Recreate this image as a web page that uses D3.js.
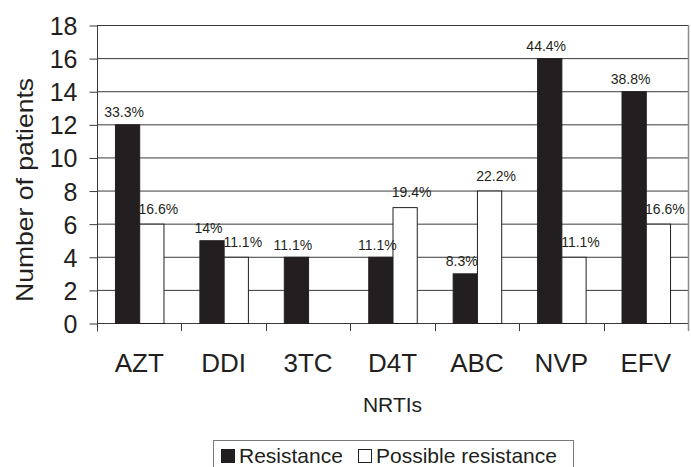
<!DOCTYPE html>
<html>
  <head>
    <script src="https://d3js.org/d3.v7.min.js"></script>
    <style>
      body { margin: 0; background: white; }
      text { font-family: "Liberation Sans", Arial, sans-serif; fill: #231f20; }
    </style>
  </head>
  <body>
    <script>
      const categories = ['AZT', 'DDI', '3TC', 'D4T', 'ABC', 'NVP', 'EFV'];
      const resistance = [12, 5, 4, 4, 3, 16, 14];
      const possible = [6, 4, 0, 7, 8, 4, 6];
      const resistanceLabels = ['33.3%', '14%', '11.1%', '11.1%', '8.3%', '44.4%', '38.8%'];
      const possibleLabels = ['16.6%', '11.1%', null, '19.4%', '22.2%', '11.1%', '16.6%'];
      const yTicks = [0, 2, 4, 6, 8, 10, 12, 14, 16, 18];
      const seriesNames = ['Resistance', 'Possible resistance'];

      const w = 691, h = 467;
      const margin = {top: 25, right: 3, bottom: 144, left: 97};
      const ink = '#231f20';

      const svg = d3.select('body').append('svg')
        .attr('width', w)
        .attr('height', h);

      const x = d3.scaleBand()
        .domain(categories)
        .range([margin.left, w - margin.right])
        .padding(0);

      const x1 = d3.scaleBand()
        .domain(seriesNames)
        .range([0, x.bandwidth()])
        .paddingInner(0)
        .paddingOuter(0.74);

      const y = d3.scaleLinear()
        .domain([0, 18])
        .range([h - margin.bottom, margin.top]);

      // gridlines
      svg.append('g')
        .selectAll('line')
        .data(yTicks)
        .enter()
        .append('line')
        .attr('x1', margin.left)
        .attr('x2', w - margin.right)
        .attr('y1', d => y(d) + 0.5)
        .attr('y2', d => y(d) + 0.5)
        .attr('stroke', '#3a3a3a')
        .attr('stroke-width', 1);

      // right border of plot area
      svg.append('line')
        .attr('x1', w - margin.right + 0.5)
        .attr('x2', w - margin.right + 0.5)
        .attr('y1', margin.top)
        .attr('y2', y(0) + 8)
        .attr('stroke', '#8a8a8a')
        .attr('stroke-width', 1.5);

      const rows = categories.map((c, i) => ({
        cat: c,
        values: [
          {series: seriesNames[0], v: resistance[i], label: resistanceLabels[i]},
          {series: seriesNames[1], v: possible[i], label: possibleLabels[i]}
        ]
      }));

      const groups = svg.append('g')
        .selectAll('g')
        .data(rows)
        .enter()
        .append('g')
        .attr('transform', d => `translate(${x(d.cat)},0)`);

      groups.selectAll('rect')
        .data(d => d.values.filter(v => v.v > 0))
        .enter()
        .append('rect')
        .attr('x', d => x1(d.series) + 0.5)
        .attr('width', x1.bandwidth())
        .attr('y', d => y(d.v) + 0.5)
        .attr('height', d => y(0) - y(d.v))
        .attr('fill', d => d.series === seriesNames[0] ? ink : 'white')
        .attr('stroke', ink)
        .attr('stroke-width', 1);

      groups.selectAll('text')
        .data(d => d.values.filter(v => v.label))
        .enter()
        .append('text')
        .attr('x', d => x1(d.series) + x1.bandwidth() / 2 + (d.series === seriesNames[0] ? -3 : 7))
        .attr('y', d => y(d.v) - (d.series === seriesNames[0] ? 7 : 10))
        .attr('text-anchor', 'middle')
        .style('font-size', '14px')
        .text(d => d.label);

      // y axis
      const yAxis = svg.append('g')
        .attr('transform', `translate(${margin.left + 0.5},0.5)`)
        .call(d3.axisLeft(y).tickValues(yTicks).tickSize(8).tickPadding(12).tickFormat(d3.format('d')));
      yAxis.selectAll('line').attr('stroke', '#3a3a3a');
      yAxis.select('.domain').attr('stroke', '#3a3a3a').attr('d', `M0,${margin.top - 0.5}V${y(0) + 8}`);
      yAxis.selectAll('text')
        .attr('dy', '0.36em')
        .style('font-size', '25px')
        .style('font-family', '"Liberation Sans", Arial, sans-serif')
        .attr('fill', ink);

      // x boundary ticks
      svg.append('g')
        .selectAll('line')
        .data(categories.slice(1))
        .enter()
        .append('line')
        .attr('x1', d => Math.round(x(d)) + 0.5)
        .attr('x2', d => Math.round(x(d)) + 0.5)
        .attr('y1', y(0))
        .attr('y2', y(0) + 8)
        .attr('stroke', '#3a3a3a');

      // x labels
      const xAxis = svg.append('g')
        .attr('transform', `translate(0,${y(0)})`)
        .call(d3.axisBottom(x).tickSize(0).tickPadding(30.5));
      xAxis.select('.domain').remove();
      xAxis.selectAll('text')
        .style('font-size', '26px')
        .style('font-family', '"Liberation Sans", Arial, sans-serif')
        .attr('fill', ink);

      // axis titles
      svg.append('text')
        .attr('x', (margin.left + w - margin.right) / 2)
        .attr('y', 412)
        .attr('text-anchor', 'middle')
        .style('font-size', '21px')
        .text('NRTIs');

      svg.append('text')
        .attr('transform', 'translate(33,190) rotate(-90)')
        .attr('text-anchor', 'middle')
        .attr('textLength', 224)
        .attr('lengthAdjust', 'spacingAndGlyphs')
        .style('font-size', '24px')
        .text('Number of patients');

      // legend
      const legend = svg.append('g');
      legend.append('rect')
        .attr('x', 213.5)
        .attr('y', 440.5)
        .attr('width', 360)
        .attr('height', 40)
        .attr('fill', 'white')
        .attr('stroke', '#7a7a7a');

      const legendItems = [
        {name: seriesNames[0], fill: ink, x: 221},
        {name: seriesNames[1], fill: 'white', x: 358}
      ];
      legend.selectAll('.swatch')
        .data(legendItems)
        .enter()
        .append('rect')
        .attr('class', 'swatch')
        .attr('x', d => d.x + 0.5)
        .attr('y', 449.5)
        .attr('width', 13)
        .attr('height', 13)
        .attr('fill', d => d.fill)
        .attr('stroke', ink);
      legend.selectAll('.label')
        .data(legendItems)
        .enter()
        .append('text')
        .attr('class', 'label')
        .attr('x', d => d.x + 18)
        .attr('y', 463)
        .style('font-size', '21px')
        .text(d => d.name);
    </script>
  </body>
</html>
